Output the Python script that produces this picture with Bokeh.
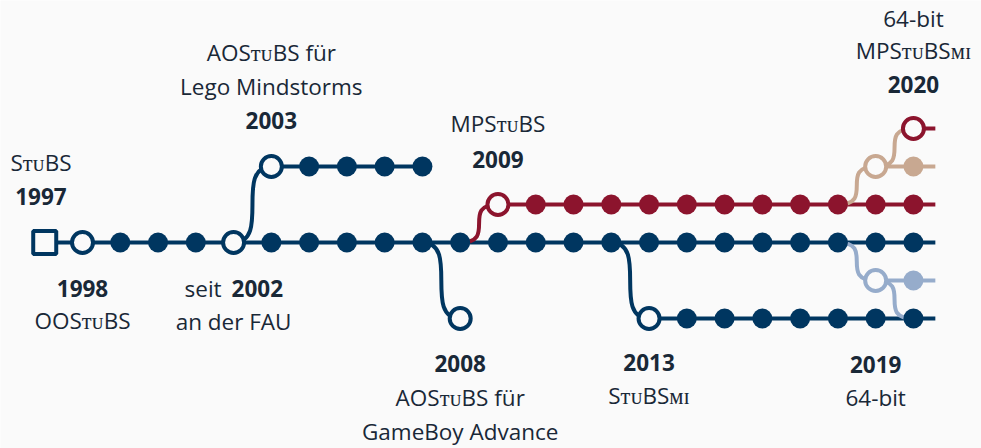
from bokeh.plotting import figure
from bokeh.models import Range1d, ColumnDataSource
from bokeh.embed import file_html
from bokeh.resources import INLINE
from bokeh.core.properties import value

BLUE = "#003660"
RED = "#8C142D"
TAN = "#C8A891"
LBLUE = "#96ACCB"
TEXT = "#192837"
BG = "#FAFAFA"

# ---- data ----
# straight tracks (year range on a row; row 0 = main line)
track_start = [1997, 2003, 2009, 2013, 2019, 2020, 2019]
track_end = [2020.58, 2007, 2020.58, 2020.58, 2020.58, 2020.58, 2020.58]
track_row = [0, 2, 1, -2, 2, 3, -1]
track_color = [BLUE, BLUE, RED, BLUE, TAN, RED, LBLUE]

# branch curves (from year/row to year/row)
branch_x0 = [2002, 2007, 2008, 2012, 2018, 2019, 2018, 2019]
branch_y0 = [0, 0, 0, 0, 1, 2, 0, -1]
branch_x1 = [2003, 2008, 2009, 2013, 2019, 2020, 2019, 2020]
branch_y1 = [2, -2, 1, -2, 2, 3, -1, -2]
branch_color = [BLUE, BLUE, RED, BLUE, TAN, TAN, LBLUE, LBLUE]

# filled stations
main_years = [1999, 2000, 2001, 2003, 2004, 2005, 2006, 2007, 2008, 2009, 2010,
              2011, 2012, 2013, 2014, 2015, 2016, 2017, 2018, 2019, 2020]
lego_years = [2004, 2005, 2006, 2007]
mp_years = [2010, 2011, 2012, 2013, 2014, 2015, 2016, 2017, 2018, 2019, 2020]
mi_years = [2014, 2015, 2016, 2017, 2018, 2019, 2020]
tan_years = [2020]
lb_years = [2020]

# open stations (releases)
open_year = [1998, 2002, 2003, 2008, 2009, 2013, 2019, 2020, 2019]
open_row = [0, 0, 2, -2, 1, -2, 2, 3, -1]
open_color = [BLUE, BLUE, BLUE, BLUE, RED, BLUE, TAN, RED, LBLUE]

# start square
start_year = [1997]
start_row = [0]

# labels: text, anchor year, baseline row, bold
lab_text = ["S\u1d1b\u1d1cBS", "1997", "1998", "OOS\u1d1b\u1d1cBS", "an der FAU",
            "AOS\u1d1b\u1d1cBS für", "Lego Mindstorms", "2003",
            "MPS\u1d1b\u1d1cBS", "2009",
            "2008", "AOS\u1d1b\u1d1cBS für", "GameBoy Advance",
            "2013", "S\u1d1b\u1d1cBS\u1d0d\u026a",
            "64-bit", "MPS\u1d1b\u1d1cBS\u1d0d\u026a", "2020",
            "2019", "64-bit"]
lab_year = [1996.9, 1996.9, 1998, 1998, 2002,
            2003, 2003, 2003,
            2009, 2009,
            2008, 2008, 2008,
            2013, 2013,
            2020, 2020, 2020,
            2019, 2019]
lab_row = [1.868, 0.974, -1.447, -2.289, -2.316,
           4.763, 3.868, 2.974,
           2.895, 1.947,
           -3.421, -4.316, -5.211,
           -3.395, -4.263,
           5.658, 4.816, 3.921,
           -3.447, -4.316]
lab_bold = [False, True, True, False, False,
            False, False, True,
            False, True,
            True, False, False,
            True, False,
            False, False, True,
            True, False]

seit_year = [2002]
seit_row = [-1.447]

# ---- figure ----
p = figure(width=981, height=448, output_backend="svg", toolbar_location=None,
           x_range=Range1d(1995.829, 2021.802), y_range=Range1d(-5.4211, 6.3684),
           min_border=0, background_fill_color=BG, border_fill_color=BG)
p.axis.visible = False
p.grid.visible = False
p.outline_line_color = None

LW = 4

p.segment(x0=track_start, y0=track_row, x1=track_end, y1=track_row,
          line_color=track_color, line_width=LW)

p.bezier(x0=branch_x0, y0=branch_y0, x1=branch_x1, y1=branch_y1,
         cx0=branch_x1, cy0=branch_y0, cx1=branch_x0, cy1=branch_y1,
         line_color=branch_color, line_width=LW)

DOT = 20
p.scatter(main_years, [0] * len(main_years), size=DOT, color=BLUE, line_width=0)
p.scatter(lego_years, [2] * len(lego_years), size=DOT, color=BLUE, line_width=0)
p.scatter(mp_years, [1] * len(mp_years), size=DOT, color=RED, line_width=0)
p.scatter(mi_years, [-2] * len(mi_years), size=DOT, color=BLUE, line_width=0)
p.scatter(tan_years, [2] * len(tan_years), size=DOT, color=TAN, line_width=0)
p.scatter(lb_years, [-1] * len(lb_years), size=DOT, color=LBLUE, line_width=0)

p.scatter(open_year, open_row, size=21, fill_color=BG, line_color=open_color, line_width=LW)
p.scatter(start_year, start_row, marker="square", size=23, fill_color=BG,
          line_color=BLUE, line_width=LW)

FONT = value("Open Sans")
FS = "22.5px"
DY = -9
reg = ColumnDataSource(dict(
    x=[x for x, b in zip(lab_year, lab_bold) if not b],
    y=[y for y, b in zip(lab_row, lab_bold) if not b],
    t=[t for t, b in zip(lab_text, lab_bold) if not b]))
bold = ColumnDataSource(dict(
    x=[x for x, b in zip(lab_year, lab_bold) if b],
    y=[y for y, b in zip(lab_row, lab_bold) if b],
    t=[t for t, b in zip(lab_text, lab_bold) if b]))
p.text(x="x", y="y", text="t", source=reg, text_font=FONT, text_font_size=FS,
       text_align="center", text_baseline="alphabetic", text_color=TEXT, y_offset=DY)
p.text(x="x", y="y", text="t", source=bold, text_font=FONT, text_font_size=FS,
       text_font_style="bold", text_align="center", text_baseline="alphabetic",
       text_color=TEXT, y_offset=DY)
p.text(x=seit_year, y=seit_row, text=["seit"], text_font=FONT, text_font_size=FS,
       text_align="right", text_baseline="alphabetic", text_color=TEXT,
       x_offset=-12, y_offset=DY)
p.text(x=seit_year, y=seit_row, text=["2002"], text_font=FONT, text_font_size=FS,
       text_font_style="bold", text_align="left", text_baseline="alphabetic",
       text_color=TEXT, x_offset=-2, y_offset=DY)

open("out.html", "w").write(file_html(p, INLINE))
